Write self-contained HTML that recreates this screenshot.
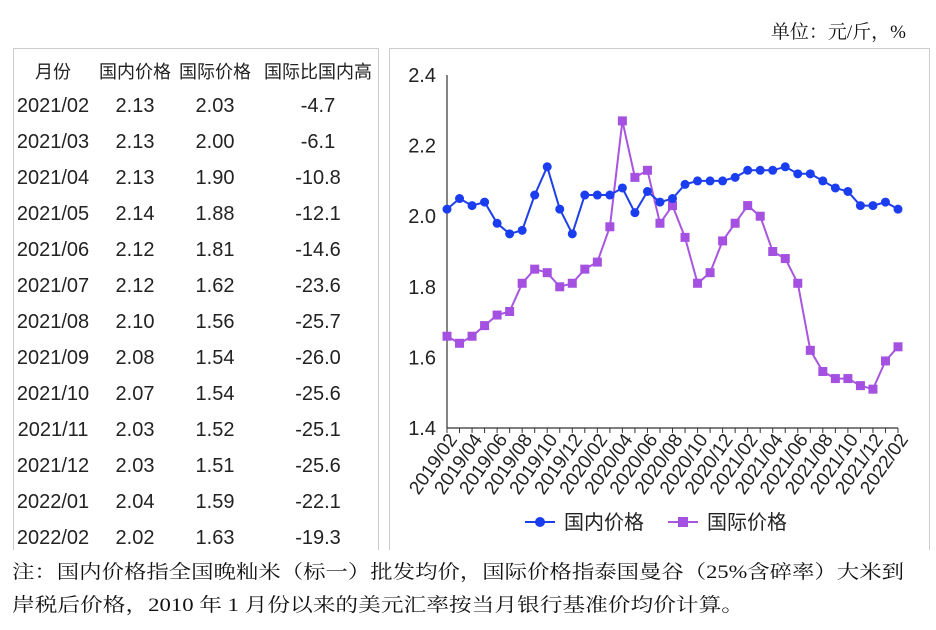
<!DOCTYPE html>
<html><head><meta charset="utf-8"><style>
body{margin:0;background:#fff;width:936px;height:630px;overflow:hidden}
svg{display:block}
.t{font-family:"Liberation Sans","Noto Sans CJK SC",sans-serif;fill:#222}
.s{font-family:"Liberation Serif","Noto Serif CJK SC",serif;fill:#111}
</style></head><body>
<svg id="c" width="936" height="630" xmlns="http://www.w3.org/2000/svg">
<rect x="13.5" y="48.5" width="365" height="520" fill="none" stroke="#ccc"/>
<rect x="389.5" y="48.5" width="540" height="520" fill="none" stroke="#ccc"/>
<rect x="0" y="550" width="936" height="80" fill="#fff"/>
<text class="s" x="906" y="38" font-size="19" text-anchor="end">单位：元/斤，%</text>
<text class="s" x="12" y="578" font-size="19" textLength="892" lengthAdjust="spacingAndGlyphs">注：国内价格指全国晚籼米（标一）批发均价，国际价格指泰国曼谷（25%含碎率）大米到</text>
<text class="s" x="12" y="611" font-size="19" textLength="732" lengthAdjust="spacingAndGlyphs">岸税后价格，2010 年 1 月份以来的美元汇率按当月银行基准价均价计算。</text>
</svg>
<script>
const svg=document.getElementById('c');let h='';
const rows=[["2021/02","2.13","2.03","-4.7"],["2021/03","2.13","2.00","-6.1"],["2021/04","2.13","1.90","-10.8"],["2021/05","2.14","1.88","-12.1"],["2021/06","2.12","1.81","-14.6"],["2021/07","2.12","1.62","-23.6"],["2021/08","2.10","1.56","-25.7"],["2021/09","2.08","1.54","-26.0"],["2021/10","2.07","1.54","-25.6"],["2021/11","2.03","1.52","-25.1"],["2021/12","2.03","1.51","-25.6"],["2022/01","2.04","1.59","-22.1"],["2022/02","2.02","1.63","-19.3"]];
const cx=[53,135,215,318];
["月份","国内价格","国际价格","国际比国内高"].forEach((t,i)=>h+=`<text class="t" x="${cx[i]}" y="78" font-size="18" text-anchor="middle">${t}</text>`);
rows.forEach((r,j)=>r.forEach((t,i)=>h+=`<text class="t" x="${cx[i]}" y="${112+j*36}" font-size="20" text-anchor="middle">${t}</text>`));
const x0=447,dx=(898-447)/36,y=v=>75+(2.4-v)*353;
[2.4,2.2,2.0,1.8,1.6,1.4].forEach(v=>h+=`<text class="t" x="436" y="${y(v)+7}" font-size="20" text-anchor="end">${v.toFixed(1)}</text>`);
h+=`<line x1="447" y1="75" x2="447" y2="${y(1.4)}" stroke="#333" stroke-width="1.2"/><line x1="447" y1="${y(1.4)}" x2="898" y2="${y(1.4)}" stroke="#333" stroke-width="1.2"/>`;
for(let i=0;i<37;i++){h+=`<line x1="${x0+i*dx}" y1="${y(1.4)}" x2="${x0+i*dx}" y2="${y(1.4)+5}" stroke="#333"/>`;}
for(let i=0;i<37;i+=2){const yr=2019+Math.floor((1+i)/12),m=((1+i)%12)+1;const x=x0+i*dx+6,yy=y(1.4)+8;
h+=`<text class="t" font-size="19" text-anchor="end" transform="translate(${x},${yy}) rotate(-55)" dy="6">${yr}/${String(m).padStart(2,'0')}</text>`;}
const A=[2.02,2.05,2.03,2.04,1.98,1.95,1.96,2.06,2.14,2.02,1.95,2.06,2.06,2.06,2.08,2.01,2.07,2.04,2.05,2.09,2.10,2.10,2.10,2.11,2.13,2.13,2.13,2.14,2.12,2.12,2.10,2.08,2.07,2.03,2.03,2.04,2.02];
const B=[1.66,1.64,1.66,1.69,1.72,1.73,1.81,1.85,1.84,1.80,1.81,1.85,1.87,1.97,2.27,2.11,2.13,1.98,2.03,1.94,1.81,1.84,1.93,1.98,2.03,2.00,1.90,1.88,1.81,1.62,1.56,1.54,1.54,1.52,1.51,1.59,1.63];
const pts=a=>a.map((v,i)=>`${(x0+i*dx).toFixed(1)},${y(v).toFixed(1)}`).join(' ');
h+=`<polyline points="${pts(B)}" fill="none" stroke="#a855e0" stroke-width="2"/>`;
B.forEach((v,i)=>h+=`<rect x="${x0+i*dx-4.5}" y="${y(v)-4.5}" width="9" height="9" fill="#a450e0"/>`);
h+=`<polyline points="${pts(A)}" fill="none" stroke="#1f3fe8" stroke-width="2"/>`;
A.forEach((v,i)=>h+=`<circle cx="${x0+i*dx}" cy="${y(v)}" r="4.5" fill="#1a3df0"/>`);
h+=`<line x1="525" y1="522" x2="555" y2="522" stroke="#1f3fe8" stroke-width="2"/><circle cx="540" cy="522" r="5" fill="#1a3df0"/><text class="t" x="564" y="529" font-size="20">国内价格</text>`;
h+=`<line x1="668" y1="522" x2="698" y2="522" stroke="#a855e0" stroke-width="2"/><rect x="678" y="517" width="10" height="10" fill="#a450e0"/><text class="t" x="707" y="529" font-size="20">国际价格</text>`;
svg.insertAdjacentHTML('beforeend',h);
</script>
</body></html>
